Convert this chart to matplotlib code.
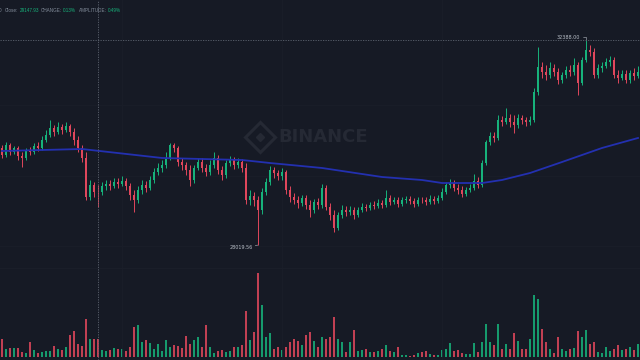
import matplotlib
matplotlib.use("Agg")
import matplotlib.pyplot as plt
import numpy as np

## Data (BTC/USDT candles)
first_open = 30088
close = [
    29939, 30152, 30002, 30088, 29917, 29875, 30045, 30002, 30130, 30088,
    30258, 30365, 30514, 30428, 30535, 30471, 30556, 30428, 30258, 30088,
    29875, 29044, 29300, 29150, 29147.93, 29278, 29321, 29278, 29363, 29321,
    29385, 29278, 29087, 28980, 29193, 29300, 29236, 29406, 29576, 29662,
    29726, 29875, 30152, 30088, 29789, 29726, 29619, 29406, 29662, 29789,
    29662, 29576, 29726, 29875, 29619, 29513, 29768, 29832, 29726, 29789,
    29662, 28980, 29065, 28980, 28767, 29150, 29363, 29619, 29555, 29491,
    29576, 29193, 29044, 28980, 28916, 29023, 28874, 28767, 28937, 28874,
    29236, 28831, 28661, 28384, 28661, 28767, 28724, 28767, 28661, 28767,
    28831, 28810, 28874, 28852, 28916, 28874, 29023, 28937, 28980, 28895,
    28980, 29001, 28959, 28895, 28980, 28975, 28937, 29001, 28959, 29023,
    29150, 29300, 29342, 29236, 29193, 29108, 29193, 29236, 29385, 29300,
    29768, 30215, 30343, 30301, 30684, 30641, 30727, 30641, 30578, 30727,
    30684, 30641, 30684, 31280, 31813, 31706, 31643, 31792, 31706, 31536,
    31643, 31749, 31706, 31856, 31472, 31962, 32175, 32132, 31643, 31792,
    31834, 31919, 31962, 31643, 31579, 31664, 31536, 31685, 31621, 31706,
]
high = [
    30152, 30215, 30194, 30130, 30130, 30002, 30088, 30109, 30194, 30215,
    30343, 30471, 30684, 30578, 30641, 30599, 30641, 30599, 30514, 30343,
    30152, 30002, 29406, 29363, 29300, 29363, 29406, 29406, 29449, 29449,
    29491, 29449, 29342, 29193, 29278, 29406, 29385, 29491, 29662, 29768,
    29832, 30002, 30194, 30194, 30130, 29875, 29789, 29726, 29726, 29875,
    29875, 29747, 29832, 30002, 29939, 29704, 29832, 29917, 29896, 29875,
    29853, 29768, 29193, 29150, 29065, 29236, 29449, 29704, 29683, 29619,
    29662, 29619, 29278, 29129, 29065, 29087, 29087, 28980, 29001, 29023,
    29321, 29300, 28916, 28767, 28724, 28874, 28852, 28852, 28831, 28831,
    28916, 28895, 28937, 28959, 29001, 28980, 29193, 29087, 29044, 29044,
    29044, 29065, 29065, 29023, 29044, 29044, 29044, 29087, 29065, 29087,
    29236, 29363, 29427, 29406, 29321, 29278, 29257, 29321, 29534, 29470,
    29832, 30258, 30428, 30428, 30790, 30769, 30940, 30812, 30790, 30812,
    30790, 30748, 30769, 31366, 32239, 31919, 31856, 31919, 31877, 31792,
    31706, 31834, 31856, 32005, 31919, 32026, 32388, 32281, 32218, 31877,
    31919, 32005, 32047, 32026, 31749, 31749, 31749, 31749, 31792, 31834,
]
low = [
    29875, 29896, 29939, 29960, 29832, 29683, 29832, 29939, 29960, 30024,
    30045, 30215, 30322, 30343, 30386, 30386, 30428, 30343, 30152, 30002,
    29789, 28980, 28980, 29044, 28831, 29087, 29193, 29193, 29236, 29236,
    29278, 29193, 28980, 28724, 28916, 29108, 29150, 29193, 29342, 29513,
    29576, 29662, 29832, 30002, 29704, 29619, 29513, 29278, 29342, 29619,
    29576, 29491, 29513, 29662, 29534, 29406, 29449, 29704, 29640, 29662,
    29576, 28895, 28874, 28852, 28019.56, 28682, 29087, 29300, 29449, 29406,
    29406, 29108, 28937, 28895, 28810, 28852, 28788, 28618, 28703, 28788,
    28810, 28767, 28554, 28298, 28341, 28597, 28639, 28661, 28575, 28618,
    28724, 28746, 28767, 28788, 28810, 28810, 28831, 28874, 28895, 28831,
    28852, 28916, 28895, 28831, 28852, 28916, 28874, 28895, 28895, 28916,
    28980, 29108, 29236, 29172, 29108, 29044, 29065, 29150, 29193, 29236,
    29257, 29726, 30152, 30215, 30258, 30556, 30599, 30535, 30407, 30514,
    30599, 30556, 30578, 30641, 31217, 31579, 31536, 31579, 31621, 31451,
    31472, 31579, 31621, 31643, 31217, 31430, 31919, 32047, 31579, 31579,
    31706, 31792, 31834, 31579, 31472, 31536, 31472, 31472, 31536, 31579,
]
volume = [
    540, 250, 270, 270, 260, 150, 120, 450, 210, 120,
    150, 180, 180, 330, 240, 210, 300, 660, 780, 390,
    330, 1140, 540, 540, 540, 210, 180, 210, 270, 240,
    240, 180, 300, 900, 960, 450, 510, 420, 240, 390,
    180, 510, 300, 360, 330, 270, 630, 390, 510, 600,
    300, 960, 300, 120, 180, 210, 150, 180, 300, 300,
    360, 1380, 510, 750, 2520, 1560, 600, 720, 240, 300,
    210, 300, 450, 540, 480, 360, 660, 750, 480, 300,
    600, 540, 600, 1200, 540, 450, 150, 450, 810, 180,
    210, 240, 150, 150, 180, 240, 360, 180, 150, 300,
    60, 60, 40, 60, 120, 150, 180, 90, 60, 60,
    210, 240, 420, 180, 210, 120, 90, 90, 420, 150,
    450, 990, 450, 360, 990, 240, 390, 240, 720, 480,
    240, 240, 540, 1860, 1740, 840, 450, 240, 120, 600,
    240, 180, 240, 270, 780, 600, 810, 390, 450, 150,
    120, 300, 180, 240, 360, 210, 240, 300, 210, 390,
]
# moving average line, read at a few candles
ma_idx = [0, 20, 40, 60, 67, 80, 95, 105, 110, 120, 125, 132, 140, 150, 159]
ma_val = [30024, 30066, 29875, 29832, 29768, 29662, 29470, 29406, 29342,
          29342, 29406, 29555, 29789, 30088, 30301]

crosshair_idx = 24
high_idx, high_val = 146, 32388.00
low_idx, low_val = 64, 28019.56

## Styles
bg = '#161a25'
green = '#17b27b'
red = '#e0475c'
grid_c = '#1a1e29'
label_c = '#848e9c'
mark_c = '#252934'

close = np.array(close, dtype=float)
opens = np.concatenate([[first_open], close[:-1]])
x = np.arange(len(close))
up = close >= opens
cols = np.where(up, green, red)

fig = plt.figure(figsize=(6.4, 3.6), dpi=100, facecolor=bg)

## volume panel (same box, own scale)
axv = fig.add_axes([0, 0, 1, 1])
axv.set_facecolor(bg)
axv.bar(x, volume, width=0.6, color=cols, linewidth=0, alpha=0.85)
axv.set_ylim(-90, 10710)
axv.set_xlim(-0.5, len(close) - 0.5)
axv.axhline(2670, color=grid_c, lw=0.8)
axv.axis('off')

## price panel
ax = fig.add_axes([0, 0, 1, 1])
ax.patch.set_visible(False)
ax.set_xlim(-0.5, len(close) - 0.5)
ax.set_ylim(25572, 33240)
for g in [31000, 29500, 28000]:
    ax.axhline(g, color=grid_c, lw=0.6, zorder=0)
for g in [30, 70, 110]:
    ax.axvline(g, color=grid_c, lw=0.6, zorder=0)

# watermark
fig.text(0.505, 0.619, 'BINANCE', fontsize=13, fontweight='bold', color=mark_c,
         ha='center', va='center')
ax.plot([0.406], [0.619], marker='D', markersize=15, markerfacecolor='none',
        markeredgecolor=mark_c, markeredgewidth=2.2, transform=fig.transFigure)
ax.plot([0.406], [0.619], marker='D', markersize=4, color=mark_c,
        transform=fig.transFigure)

body_lo = np.minimum(opens, close)
body_h = np.maximum(np.abs(close - opens), 8)
ax.vlines(x, low, high, colors=cols, lw=0.7, zorder=3)
ax.bar(x, body_h, bottom=body_lo, width=0.72, color=cols, linewidth=0, zorder=3)

ax.plot(ma_idx, ma_val, color='#2330b0', lw=1.3, zorder=4)

# crosshair
ax.axvline(crosshair_idx, color='#5d6470', lw=0.6, ls=(0, (1.5, 1.5)), zorder=5)
ax.axhline(high_val, color='#5d6470', lw=0.6, ls=(0, (1.5, 1.5)), zorder=5)

# high / low labels
ax.annotate('%.2f' % high_val, xy=(high_idx, high_val), xytext=(-4, 2),
            textcoords='offset points', ha='right', va='center', fontsize=3.5,
            color='#b7bdc6', arrowprops=dict(arrowstyle='-', color='#b7bdc6', lw=0.4,
                                             shrinkA=0, shrinkB=0,
                                             connectionstyle='angle,angleA=0,angleB=90'))
ax.annotate('%.2f' % low_val, xy=(low_idx, low_val), xytext=(-4, -1.5),
            textcoords='offset points', ha='right', va='center', fontsize=3.5,
            color='#b7bdc6', arrowprops=dict(arrowstyle='-', color='#b7bdc6', lw=0.4,
                                             shrinkA=0, shrinkB=0))
ax.axis('off')

# info line
info = [(-1, '0', label_c), (5, 'Close:', label_c), (20, '29147.93', green),
        (41, 'CHANGE:', label_c), (63, '0.13%', green),
        (79, 'AMPLITUDE:', label_c), (108, '0.49%', green)]
for px, s, c in info:
    fig.text(px / 640, 1 - 10.5 / 360, s, fontsize=3.3, color=c, va='center',
             family='Liberation Sans')

fig.savefig('out.png', dpi=100, facecolor=bg)
